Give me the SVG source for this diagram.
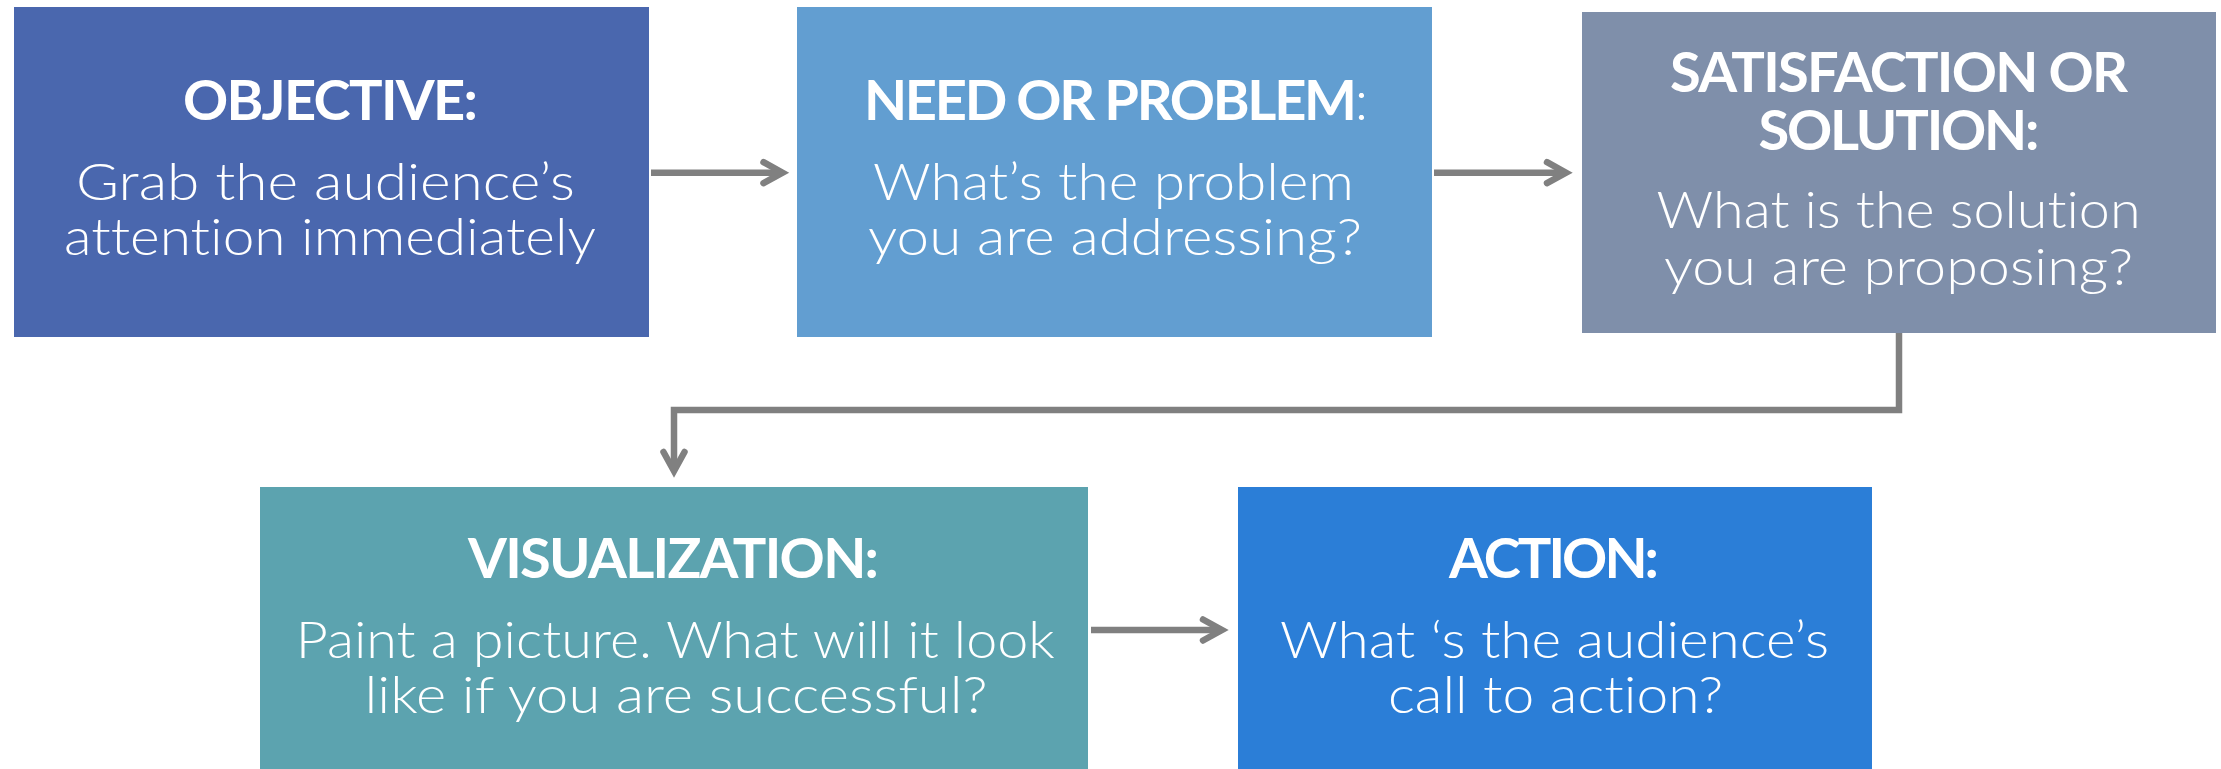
<svg xmlns="http://www.w3.org/2000/svg" width="2221" height="769" viewBox="0 0 2221 769">
  <style>
    .box { stroke: none; }
    .title { font-family: "Lato", "Open Sans", "Liberation Sans", sans-serif; font-weight: 700; font-size: 56px; fill: #ffffff; text-anchor: middle; font-variant-ligatures: none; }
    .body { font-family: "Lato", "Open Sans", "Liberation Sans", sans-serif; font-weight: 300; font-size: 52px; fill: #ffffff; text-anchor: middle; font-variant-ligatures: none; }
    .thin { font-weight: 300; }
    .link { fill: none; stroke: #808080; stroke-width: 6.5; stroke-linejoin: miter; }
  </style>
  <defs>
    <marker id="chevron" markerUnits="userSpaceOnUse" markerWidth="40" markerHeight="40" refX="0" refY="0" orient="auto" overflow="visible">
      <path d="M-19,-10.5 L0,0 L-19,10.5" fill="none" stroke="#808080" stroke-width="6.5" stroke-linecap="round" stroke-linejoin="miter"/>
    </marker>
  </defs>

  <rect width="2221" height="769" fill="#ffffff"/>

  <g id="connectors">
    <path class="link" d="M651,172.7 H782.5" marker-end="url(#chevron)"/>
    <path class="link" d="M1434,172.7 H1566" marker-end="url(#chevron)"/>
    <path class="link" d="M1899,333 V410 H674 V471" marker-end="url(#chevron)"/>
    <path class="link" d="M1091,630 H1222" marker-end="url(#chevron)"/>
  </g>

  <g id="objective">
    <rect class="box" x="14" y="7" width="635" height="330" fill="#4A67AE"/>
    <text class="title" x="330.5" y="120" textLength="295">OBJECTIVE:</text>
    <text class="body" x="325.5" y="200" textLength="499" lengthAdjust="spacingAndGlyphs">Grab the audience’s</text>
    <text class="body" x="330" y="255" textLength="532" lengthAdjust="spacingAndGlyphs">attention immediately</text>
  </g>

  <g id="need">
    <rect class="box" x="797" y="7" width="635" height="330" fill="#629ED1"/>
    <text class="title" x="864" y="120" style="text-anchor:start"><tspan textLength="493">NEED OR PROBLEM</tspan><tspan class="thin">:</tspan></text>
    <text class="body" x="1113.5" y="200" textLength="481" lengthAdjust="spacingAndGlyphs">What’s the problem</text>
    <text class="body" x="1115" y="255" textLength="494" lengthAdjust="spacingAndGlyphs">you are addressing?</text>
  </g>

  <g id="solution">
    <rect class="box" x="1582" y="12" width="634" height="321" fill="#7F8FAA"/>
    <text class="title" x="1899" y="92" textLength="458">SATISFACTION OR</text>
    <text class="title" x="1899" y="150" textLength="281">SOLUTION:</text>
    <text class="body" x="1898.6" y="228" textLength="484" lengthAdjust="spacingAndGlyphs">What is the solution</text>
    <text class="body" x="1898.5" y="285" textLength="469" lengthAdjust="spacingAndGlyphs">you are proposing?</text>
  </g>

  <g id="visualization">
    <rect class="box" x="260" y="487" width="828" height="282" fill="#5CA3AF"/>
    <text class="title" x="673.5" y="578" textLength="411">VISUALIZATION:</text>
    <text class="body" x="675.3" y="658" textLength="759" lengthAdjust="spacingAndGlyphs">Paint a picture. What will it look</text>
    <text class="body" x="676" y="713" textLength="623" lengthAdjust="spacingAndGlyphs">like if you are successful?</text>
  </g>

  <g id="action">
    <rect class="box" x="1238" y="487" width="634" height="282" fill="#2B7ED7"/>
    <text class="title" x="1554" y="578" textLength="210">ACTION:</text>
    <text class="body" x="1554.5" y="658" textLength="549" lengthAdjust="spacingAndGlyphs">What ‘s the audience’s</text>
    <text class="body" x="1555.5" y="713" textLength="335" lengthAdjust="spacingAndGlyphs">call to action?</text>
  </g>
</svg>
